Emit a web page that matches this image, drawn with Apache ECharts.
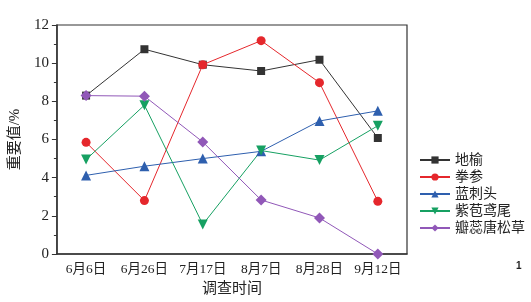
<!DOCTYPE html>
<html><head><meta charset="utf-8">
<script src="https://cdn.jsdelivr.net/npm/echarts@6/dist/echarts.min.js"></script>
<style>html,body{margin:0;padding:0;background:#fff}#c{width:531px;height:302px}</style>
</head><body><div id="c"></div>
<script>
const categories = ['6月6日','6月26日','7月17日','8月7日','8月28日','9月12日'];
const diyu = [8.3, 10.73, 9.92, 9.59, 10.18, 6.08];
const quanshen = [5.85, 2.8, 9.92, 11.18, 8.98, 2.76];
const lancitou = [4.12, 4.6, 5.0, 5.38, 6.97, 7.5];
const zibaoyuanwei = [4.95, 7.8, 1.55, 5.42, 4.92, 6.72];
const banruitangsongcao = [8.3, 8.27, 5.87, 2.83, 1.89, 0];
const yTicks = {min:0, max:12, interval:2};

const serif = '"Liberation Serif","DejaVu Serif","Noto Sans CJK SC",serif';
function s(name, data, color, symbol, size, rotate){
  return {name, type:'line', data, symbol, symbolSize:size, symbolRotate:rotate||0,
    lineStyle:{color, width:1}, itemStyle:{color}, animation:false};
}
const chart = echarts.init(document.getElementById('c'));
chart.setOption({
  animation:false,
  grid:{left:46, right:124, top:25, bottom:48, show:true, borderColor:'#333', borderWidth:1.2},
  xAxis:{type:'category', data:categories, boundaryGap:true,
    axisLine:{lineStyle:{color:'#333', width:1.5}},
    axisTick:{alignWithLabel:true, length:5, lineStyle:{color:'#333'}},
    axisLabel:{interval:0, color:'#222', fontSize:13.5, fontFamily:serif, margin:9},
    name:'调查时间', nameLocation:'middle', nameGap:28,
    nameTextStyle:{color:'#222', fontSize:15, fontFamily:serif}},
  yAxis:{type:'value', min:yTicks.min, max:yTicks.max, interval:yTicks.interval,
    splitLine:{show:false},
    axisLine:{show:true, lineStyle:{color:'#333', width:1.5}},
    axisTick:{show:true, length:5, lineStyle:{color:'#333'}},
    minorTick:{show:true, splitNumber:2, length:3, lineStyle:{color:'#333'}},
    axisLabel:{color:'#222', fontSize:15, fontFamily:serif, margin:8},
    name:'重要值/%', nameLocation:'middle', nameGap:30, nameRotate:90,
    nameTextStyle:{color:'#222', fontSize:15, fontFamily:serif}},
  legend:{orient:'vertical', left:414, top:148, itemGap:3, itemWidth:30, itemHeight:9,
    textStyle:{color:'#222', fontSize:14, fontFamily:serif},
    data:['地榆','拳参','蓝刺头','紫苞鸢尾','瓣蕊唐松草']},
  graphic:[{type:'text', left:516, top:261, style:{text:'1', fill:'#222', font:'bold 10px "Liberation Sans",sans-serif'}}],
  series:[
    s('地榆', diyu, '#333333', 'rect', 8),
    s('拳参', quanshen, '#e5272c', 'circle', 9),
    s('蓝刺头', lancitou, '#2e5fae', 'triangle', 10),
    s('紫苞鸢尾', zibaoyuanwei, '#16a062', 'triangle', 10, 180),
    s('瓣蕊唐松草', banruitangsongcao, '#9158b8', 'diamond', 11)
  ]
});
</script></body></html>
